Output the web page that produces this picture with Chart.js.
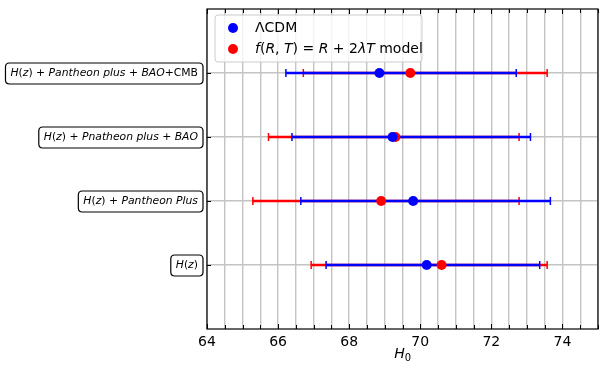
<!DOCTYPE html>
<html>
<head>
<meta charset="utf-8">
<script src="https://cdn.jsdelivr.net/npm/chart.js@4.4.0/dist/chart.umd.min.js"></script>
<style>
  html, body { margin: 0; padding: 0; background: #fff; }
  #wrap { width: 608px; height: 378px; }
</style>
</head>
<body>
<div id="wrap"><canvas id="myChart" width="608" height="378"></canvas></div>
<script>
// rows, bottom to top
var rowNames = [
    [['i', 'H'], ['r', '('], ['i', 'z'], ['r', ')']],
    [['i', 'H'], ['r', '('], ['i', 'z'], ['r', ') + '], ['i', 'Pantheon Plus']],
    [['i', 'H'], ['r', '('], ['i', 'z'], ['r', ') + '], ['i', 'Pnatheon plus'], ['r', ' + '], ['i', 'BAO']],
    [['i', 'H'], ['r', '('], ['i', 'z'], ['r', ') + '], ['i', 'Pantheon plus'], ['r', ' + '], ['i', 'BAO'], ['r', '+CMB']]
];
var rowPos = [0, 1, 2, 3];

// LambdaCDM
var lcdmH0 = [70.18, 69.80, 69.22, 68.85];
var lcdmLo = [67.35, 66.64, 66.39, 66.22];
var lcdmHi = [73.36, 73.66, 73.10, 72.70];

// f(R,T) = R + 2 lambda T
var frtH0 = [70.60, 68.90, 69.30, 69.72];
var frtLo = [66.93, 65.29, 65.73, 66.71];
var frtHi = [73.57, 72.78, 72.78, 73.57];

var legendNames = [
    [['r', 'ΛCDM']],
    [['i', 'f'], ['r', '('], ['i', 'R'], ['r', ', '], ['i', 'T'], ['r', ') = '], ['i', 'R'], ['r', ' + 2'], ['i', 'λT'], ['r', ' model']]
];

var FONT = "'DejaVu Sans', sans-serif";

function pts(xs) {
    return xs.map(function (v, i) { return { x: v, y: rowPos[i] }; });
}

function textWidth(ctx, parts, size) {
    var w = 0;
    parts.forEach(function (p) {
        ctx.font = (p[0] === 'i' ? 'italic ' : '') + size + 'px ' + FONT;
        w += ctx.measureText(p[1]).width;
    });
    return w;
}

function drawParts(ctx, parts, x, y, size) {
    ctx.textBaseline = 'middle';
    ctx.textAlign = 'left';
    parts.forEach(function (p) {
        ctx.font = (p[0] === 'i' ? 'italic ' : '') + size + 'px ' + FONT;
        ctx.fillText(p[1], x, y);
        x += ctx.measureText(p[1]).width;
    });
}

function roundRect(ctx, x, y, w, h, r) {
    ctx.beginPath();
    ctx.moveTo(x + r, y);
    ctx.lineTo(x + w - r, y);
    ctx.quadraticCurveTo(x + w, y, x + w, y + r);
    ctx.lineTo(x + w, y + h - r);
    ctx.quadraticCurveTo(x + w, y + h, x + w - r, y + h);
    ctx.lineTo(x + r, y + h);
    ctx.quadraticCurveTo(x, y + h, x, y + h - r);
    ctx.lineTo(x, y + r);
    ctx.quadraticCurveTo(x, y, x + r, y);
    ctx.closePath();
}

var errorBars = {
    id: 'errorBars',
    beforeDatasetsDraw: function (chart) {
        var ctx = chart.ctx, xs = chart.scales.x, ys = chart.scales.y;
        // red first, blue on top
        for (var d = chart.data.datasets.length - 1; d >= 0; d--) {
            var ds = chart.data.datasets[d];
            ctx.save();
            ctx.strokeStyle = ds.backgroundColor;
            for (var i = 0; i < ds.lo.length; i++) {
                var y = ys.getPixelForValue(rowPos[i]);
                var x1 = xs.getPixelForValue(ds.lo[i]);
                var x2 = xs.getPixelForValue(ds.hi[i]);
                ctx.lineWidth = 2.5;
                ctx.beginPath();
                ctx.moveTo(x1, y);
                ctx.lineTo(x2, y);
                ctx.stroke();
                ctx.lineWidth = 1.5;
                ctx.beginPath();
                ctx.moveTo(x1, y - 4);
                ctx.lineTo(x1, y + 4);
                ctx.moveTo(x2, y - 4);
                ctx.lineTo(x2, y + 4);
                ctx.stroke();
            }
            ctx.restore();
        }
    },
    afterDatasetsDraw: function (chart) {
        var ctx = chart.ctx, a = chart.chartArea;
        var xs = chart.scales.x, ys = chart.scales.y;
        ctx.save();
        // frame
        ctx.strokeStyle = '#000';
        ctx.lineWidth = 1.2;
        ctx.strokeRect(a.left, a.top, a.right - a.left, a.bottom - a.top);
        // inward ticks, bottom and top
        ctx.lineWidth = 1;
        ctx.beginPath();
        xs.ticks.forEach(function (t) {
            var x = Math.round(xs.getPixelForValue(t.value)) + 0.5;
            var len = (Math.abs(t.value % 2) < 1e-6) ? 5 : 4;
            ctx.moveTo(x, a.bottom);
            ctx.lineTo(x, a.bottom - len);
            ctx.moveTo(x, a.top);
            ctx.lineTo(x, a.top + len);
        });
        rowPos.forEach(function (v) {
            var y = Math.round(ys.getPixelForValue(v)) + 0.5;
            ctx.moveTo(a.left, y);
            ctx.lineTo(a.left + 4, y);
        });
        ctx.stroke();

        // boxed row labels
        ctx.fillStyle = '#000';
        rowNames.forEach(function (parts, i) {
            var y = ys.getPixelForValue(rowPos[i]) + 0.5;
            var w = textWidth(ctx, parts, 10.8);
            var right = a.left - 4;
            ctx.lineWidth = 1.2;
            roundRect(ctx, right - w - 10, y - 10.5, w + 10, 21, 4);
            ctx.fillStyle = '#fff';
            ctx.fill();
            ctx.stroke();
            ctx.fillStyle = '#000';
            drawParts(ctx, parts, right - w - 5, y, 10.8);
        });

        // x axis title H_0
        ctx.font = 'italic 14px ' + FONT;
        ctx.textBaseline = 'middle';
        var cx = (a.left + a.right) / 2;
        var hw = ctx.measureText('H').width;
        ctx.fillText('H', cx - hw / 2 - 3, 354);
        ctx.font = '10px ' + FONT;
        ctx.fillText('0', cx + hw / 2 - 3, 358);

        // legend
        var lx = a.left + 8, ly = a.top + 6, lw = 207, lh = 47;
        roundRect(ctx, lx, ly, lw, lh, 3);
        ctx.fillStyle = 'rgba(255,255,255,0.8)';
        ctx.fill();
        ctx.strokeStyle = '#cccccc';
        ctx.lineWidth = 1;
        ctx.stroke();
        chart.data.datasets.forEach(function (ds, i) {
            var yy = ly + 13 + i * 21;
            ctx.fillStyle = ds.backgroundColor;
            ctx.beginPath();
            ctx.arc(lx + 18, yy, 5, 0, Math.PI * 2);
            ctx.fill();
            ctx.fillStyle = '#000';
            drawParts(ctx, legendNames[i], lx + 40, yy, 14);
        });
        ctx.restore();
    }
};

new Chart('myChart', {
    type: 'scatter',
    data: {
        datasets: [{
            label: 'ΛCDM',
            data: pts(lcdmH0),
            lo: lcdmLo,
            hi: lcdmHi,
            backgroundColor: 'blue',
            borderColor: 'blue',
            pointRadius: 5,
            pointBorderWidth: 0
        }, {
            label: 'f(R,T) = R + 2λT model',
            data: pts(frtH0),
            lo: frtLo,
            hi: frtHi,
            backgroundColor: 'red',
            borderColor: 'red',
            pointRadius: 5,
            pointBorderWidth: 0
        }]
    },
    options: {
        responsive: false,
        animation: false,
        layout: { padding: { top: 9, right: 10, left: 0, bottom: 0 } },
        plugins: {
            legend: { display: false },
            tooltip: { enabled: false }
        },
        scales: {
            x: {
                type: 'linear',
                min: 64,
                max: 75,
                grid: { color: '#c4c4c4', lineWidth: 1.4, drawTicks: false },
                border: { display: false },
                ticks: {
                    stepSize: 0.5,
                    autoSkip: false,
                    maxRotation: 0,
                    padding: 5,
                    color: '#000',
                    font: { family: FONT, size: 14 },
                    callback: function (v) {
                        return Math.abs(v % 2) < 1e-6 ? v : '';
                    }
                },
                afterFit: function (scale) { scale.height = 49; }
            },
            y: {
                type: 'linear',
                min: -1,
                max: 4,
                grid: { color: '#c4c4c4', lineWidth: 1.4, drawTicks: false },
                border: { display: false },
                ticks: { display: false },
                afterBuildTicks: function (scale) {
                    scale.ticks = rowPos.map(function (v) { return { value: v }; });
                },
                afterFit: function (scale) { scale.width = 207; }
            }
        }
    },
    plugins: [errorBars]
});
</script>
</body>
</html>
